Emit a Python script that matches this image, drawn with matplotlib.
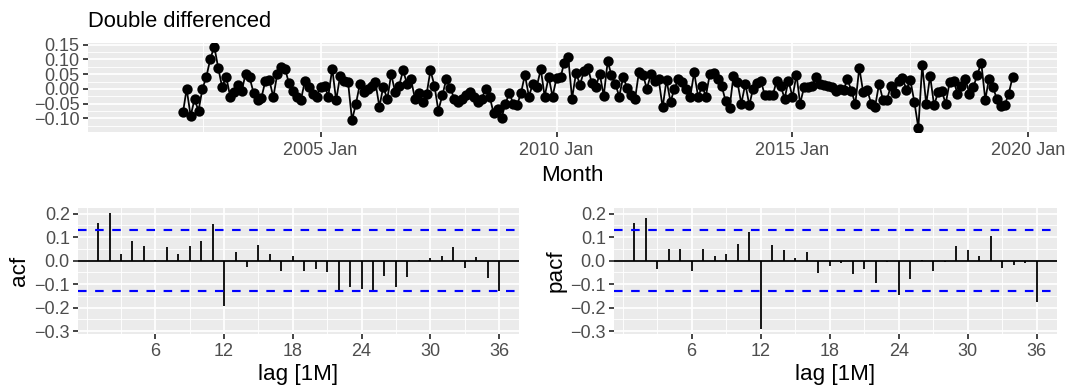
import numpy as np
import pandas as pd
import matplotlib
matplotlib.use("Agg")
import matplotlib.pyplot as plt
import matplotlib.dates as mdates
from matplotlib.ticker import FixedLocator, FuncFormatter

# double differenced series, monthly from 2002 Feb
diff2 = [
    -0.080, 0.000, -0.092, -0.036, -0.074, -0.001, 0.042, 0.103, 0.144, 0.070,
    0.006, 0.042, -0.026, -0.012, 0.014, -0.008, 0.052, 0.039, -0.013, -0.039,
    -0.030, 0.028, 0.030, -0.028, 0.052, 0.074, 0.068, 0.019, -0.008, -0.026,
    -0.039, 0.026, 0.008, -0.017, -0.028, 0.008, 0.011, -0.026, 0.069, -0.039,
    0.044, 0.028, 0.024, -0.106, -0.052, 0.017, -0.011, 0.000, 0.011, 0.022,
    -0.061, 0.008, -0.036, 0.050, -0.011, 0.011, 0.063, 0.017, 0.033, -0.033,
    -0.014, -0.044, -0.019, 0.063, 0.011, -0.074, -0.022, 0.033, 0.003, -0.033,
    -0.044, -0.033, -0.022, -0.011, -0.028, -0.044, -0.033, 0.000, -0.026, -0.083,
    -0.070, -0.100, -0.050, -0.014, -0.052, -0.056, -0.014, 0.048, -0.026, 0.017,
    0.008, 0.067, -0.026, 0.041, -0.026, 0.037, 0.039, 0.089, 0.108, -0.033,
    0.055, 0.014, 0.060, 0.072, 0.019, 0.006, 0.052, -0.024, 0.094, 0.048,
    0.017, -0.026, 0.041, 0.003, -0.022, -0.033, 0.059, 0.048, 0.000, 0.050,
    0.028, 0.033, -0.063, 0.030, -0.044, 0.000, 0.033, 0.022, 0.000, -0.026,
    0.056, -0.028, 0.011, -0.026, 0.050, 0.055, 0.035, 0.011, -0.040, -0.065,
    0.044, 0.022, -0.050, 0.017, -0.056, 0.000, 0.019, 0.028, -0.022, -0.022,
    -0.022, 0.028, 0.011, -0.033, 0.028, -0.028, 0.048, -0.050, 0.006, 0.008,
    0.011, 0.039, 0.017, 0.014, 0.011, 0.006, -0.006, 0.000, -0.003, 0.033,
    -0.006, -0.052, 0.072, -0.011, -0.003, -0.050, -0.061, 0.017, -0.037, -0.037,
    0.011, -0.014, 0.028, 0.037, -0.003, 0.030, -0.044, -0.133, 0.081, -0.052,
    0.044, -0.056, -0.011, -0.008, -0.050, 0.022, 0.028, -0.017, 0.011, 0.033,
    -0.017, 0.006, 0.048, 0.089, -0.037, 0.033, 0.006, -0.033, -0.059, -0.056,
    -0.017, 0.041,
]
first_obs = "2002-02-01"
series_start = "2001-01-01"   # first month before differencing (NA part)

lags = np.arange(1, 37)
acf_vals = [
    0.161, 0.201, 0.026, 0.083, 0.064, 0.002, 0.059, 0.026, 0.061, 0.083,
    0.156, -0.193, 0.036, -0.027, 0.066, 0.026, -0.043, 0.020, -0.043, -0.034,
    -0.049, -0.131, -0.114, -0.120, -0.131, -0.064, -0.111, -0.071, 0.003, 0.011,
    0.021, 0.057, -0.031, 0.014, -0.074, -0.129,
]
pacf_vals = [
    0.161, 0.180, -0.034, 0.050, 0.050, -0.046, 0.050, 0.019, 0.030, 0.070,
    0.123, -0.289, 0.066, 0.047, 0.011, 0.036, -0.053, -0.023, -0.010, -0.056,
    -0.037, -0.097, -0.006, -0.146, -0.077, 0.003, -0.043, -0.006, 0.061, 0.047,
    0.019, 0.104, -0.031, -0.020, -0.010, -0.174,
]
ci = 0.13

W, H, DPI = 1066, 386, 120
PANEL = "#EBEBEB"
TXT = "#4D4D4D"
TICK = "#333333"
LW = 1.07
TICK_FS = 10.8
TITLE_FS = 13.4

plt.rcParams["font.family"] = ["Liberation Sans", "DejaVu Sans"]


def px_axes(fig, x0, y0, x1, y1):
    return fig.add_axes([x0 / W, 1 - y1 / H, (x1 - x0) / W, (y1 - y0) / H])


def gg_style(ax):
    ax.set_facecolor(PANEL)
    for s in ax.spines.values():
        s.set_visible(False)
    ax.set_axisbelow(True)
    ax.grid(True, which="major", color="white", lw=LW)
    ax.grid(True, which="minor", color="white", lw=LW / 2)
    ax.tick_params(which="major", length=2.75, width=LW, color=TICK,
                   labelcolor=TXT, labelsize=TICK_FS, pad=2.2)
    ax.tick_params(which="minor", length=0)


def minus(fmt):
    return FuncFormatter(lambda v, p: format(v, fmt).replace("-", "\u2212"))


def gg_lim(lo, hi):
    pad = 0.05 * (hi - lo)
    return lo - pad, hi + pad


fig = plt.figure(figsize=(W / DPI, H / DPI), dpi=DPI)

# top: time series
dates = pd.date_range(first_obs, periods=len(diff2), freq="MS")
ax = px_axes(fig, 87.8, 42.5, 1056.7, 132)
gg_style(ax)
ax.plot(dates, diff2, color="black", lw=LW, marker="o", ms=5.2, zorder=3)
x0 = mdates.date2num(pd.Timestamp(series_start))
x1 = mdates.date2num(dates[-1])
ax.set_xlim(*gg_lim(x0, x1))
ax.set_ylim(*gg_lim(min(diff2), max(diff2)))
major_x = pd.to_datetime(["2005-01-01", "2010-01-01", "2015-01-01", "2020-01-01"])
minor_x = pd.to_datetime(["2002-07-02", "2007-07-02", "2012-07-02", "2017-07-02"])
ax.xaxis.set_major_locator(FixedLocator(mdates.date2num(major_x)))
ax.xaxis.set_minor_locator(FixedLocator(mdates.date2num(minor_x)))
ax.xaxis.set_major_formatter(mdates.DateFormatter("%Y %b"))
ax.yaxis.set_major_locator(FixedLocator([-0.10, -0.05, 0.0, 0.05, 0.10, 0.15]))
ax.yaxis.set_minor_locator(FixedLocator([-0.125, -0.075, -0.025, 0.025, 0.075, 0.125]))
ax.yaxis.set_major_formatter(minus(".2f"))
ax.tick_params(axis="x", pad=3.5)
ax.set_xlabel("Month", fontsize=TITLE_FS, labelpad=3.5)
fig.text(88 / W, 1 - 26.7 / H, "Double differenced", fontsize=13.2,
         ha="left", va="baseline")

# bottom: acf / pacf
ylo, yhi = gg_lim(min(min(acf_vals), min(pacf_vals), -ci),
                  max(max(acf_vals), max(pacf_vals), ci))
for (xa, xb), vals, name in [((78, 519), acf_vals, "acf"),
                             ((614, 1057), pacf_vals, "pacf")]:
    a = px_axes(fig, xa, 207.5, xb, 334.4)
    gg_style(a)
    a.vlines(lags, 0, vals, color="black", lw=LW, zorder=3)
    a.axhline(0, color="black", lw=LW, zorder=3)
    for c in (ci, -ci):
        a.axhline(c, color="blue", lw=LW * 1.2, ls=(0, (4, 4)), zorder=4)
    a.set_xlim(*gg_lim(1, 36))
    a.set_ylim(ylo, yhi)
    a.xaxis.set_major_locator(FixedLocator([6, 12, 18, 24, 30, 36]))
    a.xaxis.set_minor_locator(FixedLocator([0, 3, 9, 15, 21, 27, 33]))
    a.yaxis.set_major_locator(FixedLocator([-0.3, -0.2, -0.1, 0.0, 0.1, 0.2]))
    a.yaxis.set_minor_locator(FixedLocator([-0.25, -0.15, -0.05, 0.05, 0.15]))
    a.yaxis.set_major_formatter(minus(".1f"))
    a.set_xlabel("lag [1M]", fontsize=TITLE_FS, labelpad=2.5)
    a.set_ylabel(name, fontsize=TITLE_FS, labelpad=2.5)

fig.savefig("out.png", dpi=DPI)
